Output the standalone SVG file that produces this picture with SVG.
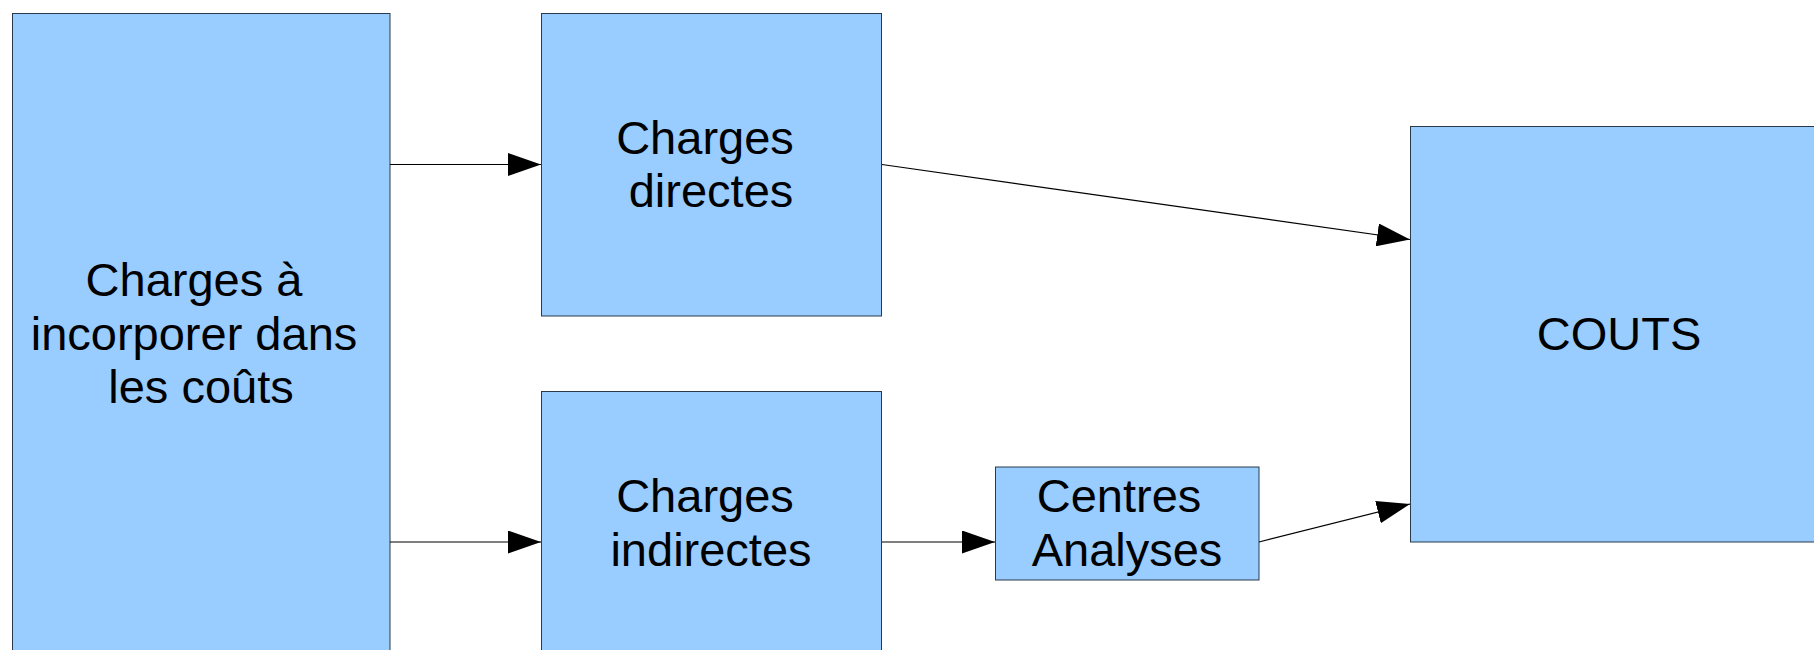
<svg xmlns="http://www.w3.org/2000/svg" width="1814" height="650" viewBox="0 0 1814 650">
<style>
.box{fill:#99ccff;stroke:#2b3a4a;stroke-width:1}
.lbl{font-family:"Liberation Sans",Arial,sans-serif;font-size:47px;fill:#000;text-anchor:middle}
.conn{stroke:#000;stroke-width:1.2;fill:none;marker-end:url(#ah)}
</style>
<defs>
<marker id="ah" markerUnits="userSpaceOnUse" markerWidth="34" markerHeight="23" refX="33" refY="11.5" orient="auto">
<path d="M0,0 L33,11.5 L0,23 Z" fill="#000"/>
</marker>
</defs>
<rect width="1814" height="650" fill="#fff"/>
<g id="node-charges">
<rect class="box" x="12.5" y="13.5" width="377.5" height="660"/>
<text class="lbl"><tspan x="194" y="296">Charges à</tspan><tspan x="194" y="350">incorporer dans</tspan><tspan x="201" y="403">les coûts</tspan></text>
</g>
<g id="node-directes">
<rect class="box" x="541.5" y="13.5" width="340" height="302.5"/>
<text class="lbl"><tspan x="705" y="154">Charges</tspan><tspan x="711" y="207">directes</tspan></text>
</g>
<g id="node-indirectes">
<rect class="box" x="541.5" y="391.5" width="340" height="300"/>
<text class="lbl"><tspan x="705" y="512">Charges</tspan><tspan x="711" y="566">indirectes</tspan></text>
</g>
<g id="node-centres">
<rect class="box" x="995.5" y="467" width="263.5" height="113"/>
<text class="lbl"><tspan x="1119" y="512">Centres</tspan><tspan x="1127" y="566">Analyses</tspan></text>
</g>
<g id="node-couts">
<rect class="box" x="1410.5" y="126.5" width="450" height="415.5"/>
<text class="lbl" x="1619" y="350">COUTS</text>
</g>
<g id="connectors">
<line class="conn" x1="390" y1="164.5" x2="541" y2="164.5"/>
<line class="conn" x1="390" y1="542" x2="541" y2="542"/>
<line class="conn" x1="882" y1="164.5" x2="1410" y2="239.5"/>
<line class="conn" x1="882" y1="542" x2="995" y2="542"/>
<line class="conn" x1="1259" y1="542" x2="1410" y2="504"/>
</g>
</svg>
